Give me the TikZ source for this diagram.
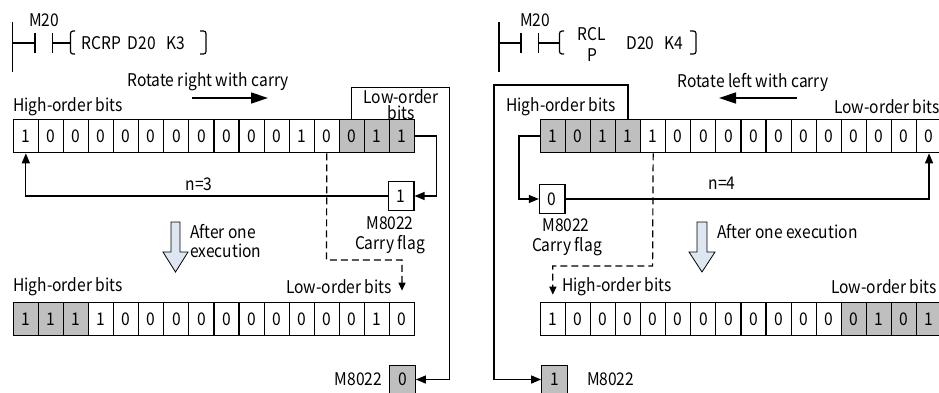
\documentclass[tikz,border=0pt]{standalone}
\usepackage{fontspec}
\setmainfont{Noto Sans CJK SC}[FakeStretch=0.89]
\usetikzlibrary{calc, positioning, arrows.meta}
\definecolor{cellgray}{RGB}{191,191,191}
\definecolor{paleblue}{RGB}{221,230,241}
\tikzset{
  bitcell/.style={draw, line width=1.2pt, minimum width=25.08pt, minimum height=33.4pt,
    inner sep=0pt, anchor=west, font=\fontsize{17.5}{20}\selectfont},
  flagbox/.style={draw, line width=1.2pt, minimum width=25.5pt, minimum height=28.5pt,
    inner sep=0pt, font=\fontsize{17.5}{20}\selectfont},
  plctext/.style={inner sep=0pt, font=\fontsize{17.5}{20}\selectfont},
  wire/.style={line width=1.2pt},
  wirearrow/.style={wire, -{Triangle[length=10pt, width=8pt]}},
  dashwire/.style={wire, dash pattern=on 7pt off 4pt, -{Triangle[length=8pt, width=7pt]}},
  shiftarrow/.style={line width=1.4pt, -{Triangle[length=17pt, width=11pt]}},
  stepshape/.style={draw, line width=0.8pt, fill=paleblue},
}

\begin{document}
\begin{tikzpicture}[x=1pt, y=-1pt]
  \useasboundingbox (0,0) rectangle (939,392);

  % rotate right with carry
  \draw[wire] (12.7,22) -- (12.7,72);
  \draw[wire] (12.7,43) -- (35,43) (35,33) -- (35,53) (52.7,33) -- (52.7,53) (52.7,43) -- (70.5,43);
  \node[plctext] (m20L) at (44,20) {M20};
  \node[plctext] (instrL) at (133.5,43) {RCRP\ \,D20\ \ \ K3};
  \draw[wire, rounded corners=2.5pt] (75,31) -- (70.5,31) -- (70.5,54) -- (75,54);
  \draw[wire, rounded corners=2.5pt] (200,31) -- (206,31) -- (206,54) -- (200,54);

  \node[plctext] (rotL) at (208,82) {Rotate right with carry};
  \coordinate (rotLa) at (192,98);
  \coordinate (rotLb) at (268,98);
  \draw[shiftarrow] (rotLa) -- (rotLb);
  \node[plctext, anchor=west] (hiL) at (13,107) {High-order bits};
  \node[plctext, align=center, font=\fontsize{17.5}{16}\selectfont] (loL) at (401,105) {Low-order\\bits};

  \foreach \b/\f [count=\i from 0] in {1/white,0/white,0/white,0/white,0/white,0/white,0/white,0/white,
      0/white,0/white,0/white,1/white,0/white,0/cellgray,1/cellgray,1/cellgray}
    \node[bitcell, fill=\f] (la\i) at ({12.7+25.08*\i},136) {\b};

  \node[flagbox] (carryL) at (401.2,196) {1};
  \node[plctext] (cfL) at (390,223) {M8022};
  \node[plctext] (cfLt) at (390,245) {Carry flag};
  \node[plctext] (nL) at (199,184) {n=3};

  \draw[stepshape] (171,222) -- (180,222) -- (180,252) -- (188,252) -- (175.5,272) -- (163,252) -- (171,252) -- cycle;
  \node[plctext, anchor=west, align=left, font=\fontsize{17.5}{19}\selectfont] (afterL) at (190,241.5) {After one\\execution};

  \node[plctext, anchor=west] (hiLb) at (13,287) {High-order bits};
  \node[plctext, anchor=east] (loLb) at (392,287) {Low-order bits};

  \foreach \b/\f [count=\i from 0] in {1/cellgray,1/cellgray,1/cellgray,1/white,0/white,0/white,0/white,0/white,
      0/white,0/white,0/white,0/white,0/white,0/white,1/white,0/white}
    \node[bitcell, fill=\f] (lb\i) at ({12.7+25.08*\i},319) {\b};

  \node[flagbox, fill=cellgray] (flagL) at (402.5,379.5) {0};
  \node[plctext, left=7pt of flagL] (flagLt) {M8022};

  \coordinate (lowL) at (449.3,87.3);
  \coordinate (dashL) at (326.5,260);
  \draw[wirearrow] (la15.east) -- ++(21,0) |- (carryL.east);
  \draw[wirearrow] (carryL.west) -| (la0.south);
  \draw[wirearrow] (la13.north) |- (lowL) |- (flagL.east);
  \draw[dashwire] (la12.south) -- (dashL) -| ([yshift=11pt]lb15.north);

  % rotate left with carry
  \draw[wire] (499,22) -- (499,72);
  \draw[wire] (499,43) -- (521,43) (521,33) -- (521,53) (538.3,33) -- (538.3,53) (538.3,43) -- (559.5,43);
  \node[plctext] (m20R) at (535,20) {M20};
  \node[plctext, align=center, font=\fontsize{17.5}{21}\selectfont] (instrR) at (592,44.5) {RCL\\P};
  \node[plctext] (argR) at (655,43) {D20\ \ \ K4};
  \draw[wire, rounded corners=2.5pt] (564,31) -- (559.5,31) -- (559.5,54) -- (564,54);
  \draw[wire, rounded corners=2.5pt] (690,31) -- (696,31) -- (696,54) -- (690,54);

  \node[plctext] (rotR) at (753,82) {Rotate left with carry};
  \coordinate (rotRa) at (797,98);
  \coordinate (rotRb) at (719,98);
  \draw[shiftarrow] (rotRa) -- (rotRb);
  \node[plctext, anchor=west] (hiR) at (506,107) {High-order bits};
  \node[plctext, anchor=west] (loR) at (834,107) {Low-order bits};

  \foreach \b/\f [count=\i from 0] in {1/cellgray,0/cellgray,1/cellgray,1/cellgray,1/white,0/white,0/white,0/white,
      0/white,0/white,0/white,0/white,0/white,0/white,0/white,0/white}
    \node[bitcell, fill=\f] (ra\i) at ({539.7+25.08*\i},136) {\b};

  \node[flagbox] (carryR) at (552.2,199) {0};
  \node[plctext] (cfR) at (566,225) {M8022};
  \node[plctext] (cfRt) at (567,247) {Carry flag};
  \node[plctext] (nR) at (722,183) {n=4};

  \draw[stepshape] (697,222) -- (707,222) -- (707,252) -- (715,252) -- (702,272) -- (689,252) -- (697,252) -- cycle;
  \node[plctext, anchor=west] (afterR) at (717,232) {After one execution};

  \node[plctext, anchor=west] (hiRb) at (562,287) {High-order bits};
  \node[plctext, anchor=west] (loRb) at (831,287) {Low-order bits};

  \foreach \b/\f [count=\i from 0] in {1/white,0/white,0/white,0/white,0/white,0/white,0/white,0/white,
      0/white,0/white,0/white,0/white,0/cellgray,1/cellgray,0/cellgray,1/cellgray}
    \node[bitcell, fill=\f] (rb\i) at ({539.7+25.08*\i},319) {\b};

  \node[flagbox, fill=cellgray] (flagR) at (554.5,379.5) {1};
  \node[plctext, right=19pt of flagR] (flagRt) {M8022};

  \coordinate (highR) at (494,85);
  \coordinate (dashR) at (652.6,266);
  \draw[wirearrow] (ra0.west) -- ++(-20.7,0) |- (carryR.west);
  \draw[wirearrow] (carryR.east) -| (ra15.south);
  \draw[wirearrow] (ra3.north) |- (highR) |- (flagR.west);
  \draw[dashwire] (ra4.south) -- (dashR) -| ([yshift=7pt]rb0.north);
\end{tikzpicture}
\end{document}
